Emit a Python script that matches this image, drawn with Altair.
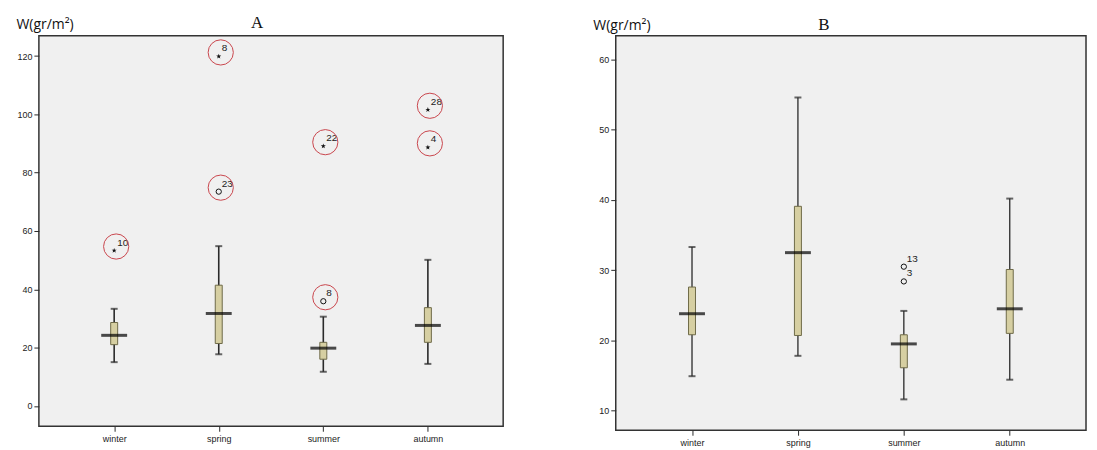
import altair as alt
import pandas as pd

seasons = ["winter", "spring", "summer", "autumn"]

# Panel A box statistics
a_low = [15.0, 17.7, 11.7, 14.4]
a_q1 = [21.0, 21.4, 16.0, 21.8]
a_med = [24.2, 31.7, 19.8, 27.6]
a_q3 = [28.6, 41.4, 21.8, 33.7]
a_high = [33.3, 54.8, 30.6, 50.1]

# Panel A outliers
a_out_season = ["winter", "spring", "spring", "summer", "summer", "autumn", "autumn"]
a_out_value = [53.3, 119.9, 73.5, 35.9, 89.1, 101.6, 88.7]
a_out_label = ["10", "8", "23", "8", "22", "28", "4"]
a_out_kind = ["star", "star", "circle", "circle", "star", "star", "star"]

# Panel B box statistics
b_low = [14.9, 17.8, 11.6, 14.4]
b_q1 = [20.8, 20.7, 16.1, 21.0]
b_med = [23.8, 32.5, 19.5, 24.5]
b_q3 = [27.6, 39.1, 20.8, 30.1]
b_high = [33.3, 54.6, 24.2, 40.2]

# Panel B outliers
b_out_season = ["summer", "summer"]
b_out_value = [30.5, 28.4]
b_out_label = ["13", "3"]
b_out_kind = ["circle", "circle"]

a_ticks = [0, 20, 40, 60, 80, 100, 120]
b_ticks = [10, 20, 30, 40, 50, 60]

STAR = "M0,-1L0.24,-0.32L0.95,-0.31L0.38,0.12L0.59,0.81L0,0.4L-0.59,0.81L-0.38,0.12L-0.95,-0.31L-0.24,-0.32Z"
BOX_FILL = "#d6cfa2"
BOX_STROKE = "#6e6a48"
DARK = "#2a2a2a"


def panel(title, title_x, title_y, axis_title_y, whisk_w, low, q1, med, q3, high,
          o_season, o_value, o_label, o_kind, ydom, yticks, width, height, rings):
    box_df = pd.DataFrame({"season": seasons, "low": low, "q1": q1, "med": med,
                           "q3": q3, "high": high})
    out_df = pd.DataFrame({"season": o_season, "v": o_value, "lab": o_label,
                           "kind": o_kind})
    xenc = alt.X("season:N", sort=seasons,
                 scale=alt.Scale(type="point", padding=0.72),
                 axis=alt.Axis(title=None, labelAngle=0, domain=False, ticks=True,
                               tickSize=5, tickColor=DARK, labelColor="#222",
                               labelFont="Liberation Sans", labelFontSize=9,
                               labelPadding=3))
    yscale = alt.Scale(domain=ydom, nice=False, zero=False)
    yaxis = alt.Axis(values=yticks, title="W(gr/m²)", titleAngle=0,
                     titleAlign="left", titleBaseline="alphabetic",
                     titleX=-23, titleY=axis_title_y, titleFont="Open Sans",
                     titleFontSize=14, titleFontWeight="normal", titleColor="#111",
                     domain=False, grid=False, tickSize=5, tickColor=DARK,
                     labelColor="#222", labelFont="Liberation Sans",
                     labelFontSize=9, labelPadding=2)

    def Y(field):
        return alt.Y(field, type="quantitative", scale=yscale, axis=yaxis)

    base = alt.Chart(box_df).encode(x=xenc)
    whisk = base.mark_rule(color=DARK, strokeWidth=whisk_w).encode(y=Y("low"), y2="high")
    cap_lo = base.mark_tick(color=DARK, size=7, thickness=2).encode(y=Y("low"))
    cap_hi = base.mark_tick(color=DARK, size=7, thickness=2).encode(y=Y("high"))
    box = base.mark_bar(size=7, fill=BOX_FILL, stroke=BOX_STROKE,
                        strokeWidth=1).encode(y=Y("q1"), y2="q3")
    medl = base.mark_tick(color="black", size=26, thickness=3).encode(y=Y("med"))

    obase = alt.Chart(out_df).encode(x=xenc, y=Y("v"))
    stars = obase.transform_filter(alt.datum.kind == "star").mark_point(
        shape=STAR, filled=True, color="#111", size=28, opacity=1)
    circs = obase.transform_filter(alt.datum.kind == "circle").mark_point(
        shape="circle", filled=False, color="#111", size=28, strokeWidth=1,
        opacity=1)
    labs = obase.mark_text(align="left", baseline="middle", dx=3, dy=-8,
                           fontSize=10, font="Liberation Sans",
                           color="#222").encode(text="lab:N")
    ttl = alt.Chart(pd.DataFrame({"t": [title]})).mark_text(
        font="Liberation Serif", fontSize=17, baseline="bottom", align="center",
        color="#111").encode(x=alt.value(title_x), y=alt.value(title_y),
                             text="t:N")
    layers = [whisk, cap_lo, cap_hi, box, medl, stars, circs, labs, ttl]
    if rings:
        ring = obase.mark_point(shape="circle", filled=False, size=640,
                                stroke="#c9464d", strokeWidth=1, opacity=1,
                                xOffset=2, yOffset=-4)
        layers.append(ring)
    return alt.layer(*layers).properties(width=width, height=height)


pa = panel("A", 219, -4, -7, 1.6, a_low, a_q1, a_med, a_q3, a_high,
           a_out_season, a_out_value, a_out_label, a_out_kind,
           [-7, 127], a_ticks, 466, 392, True)
pb = panel("B", 209, -2, -6, 1.3, b_low, b_q1, b_med, b_q3, b_high,
           b_out_season, b_out_value, b_out_label, b_out_kind,
           [7.2, 63.4], b_ticks, 472, 396, False)

chart = alt.hconcat(pa, pb, spacing=88).properties(
    padding={"left": 7, "top": 4, "right": 2, "bottom": 0},
    background="white"
).configure_view(fill="#f0f0f0", stroke="#333", strokeWidth=1.5)

chart.save("out.html", embed_options={"renderer": "svg", "actions": False})
